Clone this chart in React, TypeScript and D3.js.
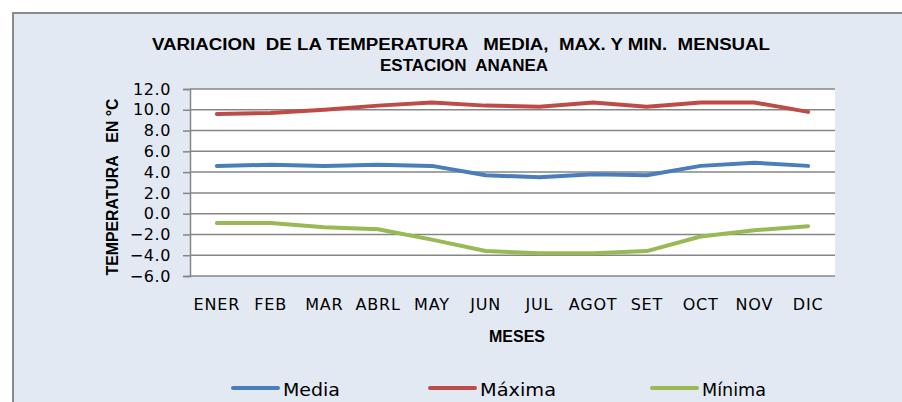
import { useEffect, useRef } from "react";
import * as d3 from "d3";

const months = ["ENER", "FEB", "MAR", "ABRL", "MAY", "JUN", "JUL", "AGOT", "SET", "OCT", "NOV", "DIC"];
const media = [4.6, 4.7, 4.6, 4.7, 4.6, 3.7, 3.5, 3.8, 3.7, 4.6, 4.9, 4.6];
const maxima = [9.6, 9.7, 10.0, 10.4, 10.7, 10.4, 10.3, 10.7, 10.3, 10.7, 10.7, 9.8];
const minima = [-0.9, -0.9, -1.3, -1.5, -2.5, -3.6, -3.8, -3.8, -3.6, -2.2, -1.6, -1.2];
const yTicks = [-6, -4, -2, 0, 2, 4, 6, 8, 10, 12];

const series = [
  { name: "Media", values: media, color: "#4a7ebb" },
  { name: "Máxima", values: maxima, color: "#be4b48" },
  { name: "Mínima", values: minima, color: "#98b954" },
];

const width = 902;
const height = 402;
const plot = { left: 190, right: 835, top: 89, bottom: 276 };
const boldFont = "'Liberation Sans', Arial, sans-serif";
const plainFont = "'DejaVu Sans', sans-serif";
const pre = { whiteSpace: "pre" as const };

const App = () => {
  const axisRef = useRef<SVGGElement>(null);

  const x = d3.scaleBand().domain(months).range([plot.left, plot.right]);
  const y = d3.scaleLinear().domain([-6, 12]).range([plot.bottom, plot.top]);

  const line = d3
    .line<number>()
    .x((_, i) => (x(months[i]) as number) + x.bandwidth() / 2)
    .y((d) => y(d));

  useEffect(() => {
    const g = d3.select(axisRef.current);
    g.call(d3.axisLeft(y).tickValues(yTicks).tickSize(7).tickFormat(d3.format(".1f")));
    g.select(".domain").attr("stroke", "#868686").attr("stroke-width", 1.5);
    g.selectAll(".tick line").attr("stroke", "#868686").attr("stroke-width", 1.5);
    g.selectAll("text")
      .attr("font-family", plainFont)
      .attr("font-size", "16px")
      .attr("letter-spacing", "0.6px")
      .attr("fill", "#000")
      .attr("x", -19);
  }, []);

  const legendX = [233, 430, 652];
  const legendW = [57, 76, 64];

  return (
    <div style={{ position: "fixed", left: 0, top: 0 }}>
      <svg width={width} height={height} viewBox={`0 0 ${width} ${height}`} style={{ display: "block" }}>
        <rect x={0} y={0} width={width} height={height} fill="#fff" />
        <rect x={13} y={13} width={width + 10} height={height + 10} fill="#e2e9f3" stroke="#8a8a8a" strokeWidth={2} />

        <g fontFamily={boldFont} fontWeight="bold" fontSize="16px" textAnchor="middle">
          <text x={461} y={50} textLength={618} lengthAdjust="spacingAndGlyphs" xmlSpace="preserve" style={pre}>
            {"VARIACION  DE LA TEMPERATURA   MEDIA,  MAX. Y MIN.  MENSUAL"}
          </text>
          <text x={464} y={71} textLength={168} lengthAdjust="spacingAndGlyphs" xmlSpace="preserve" style={pre}>
            {"ESTACION  ANANEA"}
          </text>
        </g>

        <rect x={plot.left} y={plot.top} width={plot.right - plot.left} height={plot.bottom - plot.top} fill="#fff" />
        <g className="grid">
          {yTicks.map((t) => (
            <line key={t} x1={plot.left} x2={plot.right} y1={y(t)} y2={y(t)} stroke="#868686" strokeWidth={1.5} />
          ))}
        </g>
        <g ref={axisRef} transform={`translate(${plot.left},0)`} />

        <g className="lines">
          {series.map((s) => (
            <path
              key={s.name}
              d={line(s.values) ?? ""}
              fill="none"
              stroke={s.color}
              strokeWidth={4}
              strokeLinecap="round"
              strokeLinejoin="round"
            />
          ))}
        </g>

        <g fontFamily={plainFont} fontSize="16px" letterSpacing="0.8px" textAnchor="middle">
          {months.map((m) => (
            <text key={m} x={(x(m) as number) + x.bandwidth() / 2} y={310}>
              {m}
            </text>
          ))}
        </g>

        <text x={517} y={342} textAnchor="middle" fontFamily={boldFont} fontWeight="bold" fontSize="16px" textLength={56} lengthAdjust="spacingAndGlyphs">
          MESES
        </text>

        <text
          transform={`translate(118,187) rotate(-90)`}
          textAnchor="middle"
          fontFamily={boldFont}
          fontWeight="bold"
          fontSize="17px"
          textLength={177}
          lengthAdjust="spacingAndGlyphs"
          xmlSpace="preserve"
          style={pre}
        >
          {"TEMPERATURA   EN °C"}
        </text>

        <g className="legend" fontFamily={plainFont} fontSize="17px">
          {series.map((s, i) => (
            <g key={s.name} transform={`translate(${legendX[i]},388)`}>
              <line x1={0} x2={45} y1={0} y2={0} stroke={s.color} strokeWidth={4} strokeLinecap="round" />
              <text x={50} y={8} textLength={legendW[i]} lengthAdjust="spacingAndGlyphs">
                {s.name}
              </text>
            </g>
          ))}
        </g>
      </svg>
    </div>
  );
};

export default App;
